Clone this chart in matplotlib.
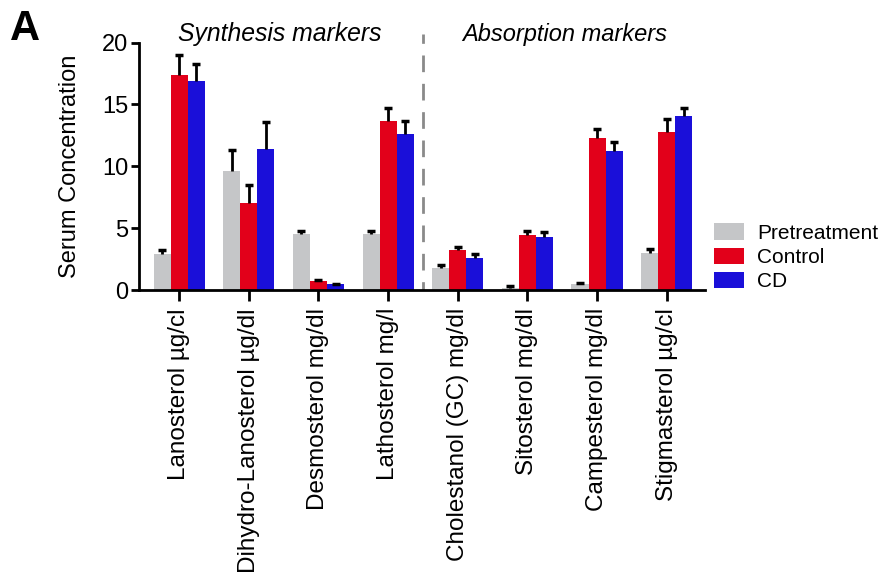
import numpy as np
import matplotlib.pyplot as plt

plt.rcParams['font.family'] = ['Liberation Sans', 'DejaVu Sans']

markers = ['Lanosterol µg/cl', 'Dihydro-Lanosterol µg/dl', 'Desmosterol mg/dl',
           'Lathosterol mg/l', 'Cholestanol (GC) mg/dl', 'Sitosterol mg/dl',
           'Campesterol mg/dl', 'Stigmasterol µg/cl']
groups = ['Pretreatment', 'Control', 'CD']

pre = [2.95, 9.65, 4.5, 4.5, 1.8, 0.2, 0.5, 3.0]
pre_err = [0.3, 1.7, 0.3, 0.3, 0.2, 0.1, 0.1, 0.3]
ctrl = [17.4, 7.05, 0.7, 13.7, 3.25, 4.47, 12.3, 12.8]
ctrl_err = [1.6, 1.45, 0.08, 1.05, 0.25, 0.27, 0.75, 1.05]
cd = [16.9, 11.4, 0.45, 12.65, 2.6, 4.3, 11.2, 14.1]
cd_err = [1.35, 2.15, 0.07, 1.05, 0.28, 0.35, 0.8, 0.65]

colors = ['#c5c6c8', '#e2001a', '#1a0fd9']

fig = plt.figure(figsize=(8.81, 5.76), dpi=100)
ax = fig.add_axes([0.158, 0.4965, 0.642, 0.4295])

x = np.arange(len(markers))
w = 0.245
for i, (vals, errs) in enumerate([(pre, pre_err), (ctrl, ctrl_err), (cd, cd_err)]):
    pos = x + (i - 1) * w
    vals = np.array(vals)
    errs = np.array(errs)
    ax.bar(pos, vals, width=w, color=colors[i], label=groups[i], zorder=2)
    # upper error bar only, cap at the top end
    ax.errorbar(pos, vals, yerr=[np.zeros(len(vals)), errs], fmt='none',
                ecolor='black', elinewidth=2, capsize=0, zorder=3)
    ax.plot(pos, vals + errs, ls='none', marker='_', ms=5.5, mew=2.5,
            color='black', zorder=3)

# divider between synthesis and absorption markers
ax.axvline(3.5, ymin=0, ymax=1.035, color='#8a8a8a', lw=2, ls=(3, (6, 4.2)),
           clip_on=False, zorder=1)

ax.set_xlim(-0.574, 7.547)
ax.set_ylim(0, 20)
ax.set_yticks([0, 5, 10, 15, 20])
ax.set_xticks(x)
ax.set_xticklabels(markers, rotation=90, fontsize=17.5)
ax.tick_params(axis='y', labelsize=17, width=2, length=6, pad=2)
ax.tick_params(axis='x', width=2, length=8, pad=5)
for s in ['top', 'right']:
    ax.spines[s].set_visible(False)
for s in ['left', 'bottom']:
    ax.spines[s].set_linewidth(2)
ax.set_ylabel('Serum Concentration', fontsize=17, labelpad=15)

ax.text(1.44, 20.1, 'Synthesis markers', style='italic', fontsize=17.8,
        ha='center', va='baseline')
ax.text(5.54, 20.1, 'Absorption markers', style='italic', fontsize=17,
        ha='center', va='baseline')

fig.text(0.011, 0.93, 'A', fontsize=30, fontweight='bold')

ax.legend(loc='upper left', bbox_to_anchor=(0.810, 0.612),
          bbox_transform=fig.transFigure, frameon=False, fontsize=15,
          handlelength=1.45, handleheight=0.85, handletextpad=0.65,
          labelspacing=0.22, borderaxespad=0, borderpad=0)

fig.savefig('out.png', dpi=100)
